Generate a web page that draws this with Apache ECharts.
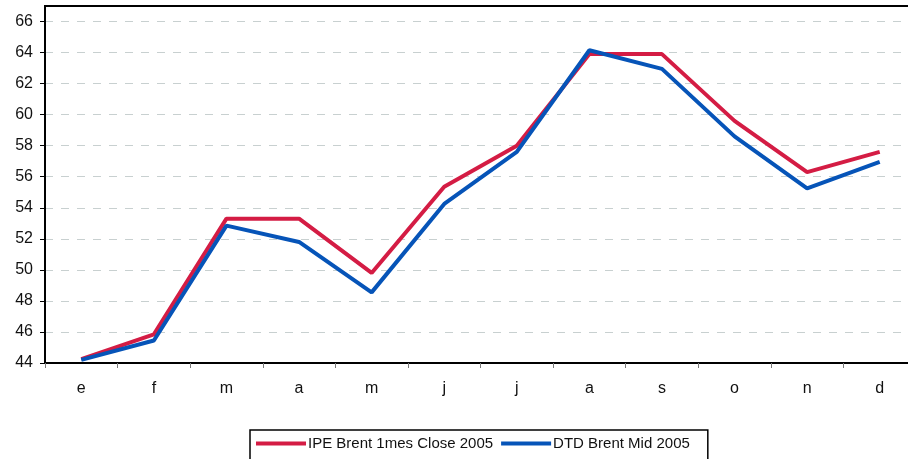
<!DOCTYPE html>
<html>
<head>
<meta charset="utf-8">
<script src="https://cdn.jsdelivr.net/npm/echarts@6/dist/echarts.min.js"></script>
<style>
  html, body { margin: 0; padding: 0; background: #fff; overflow: hidden; }
  #chart { width: 920px; height: 459px; }
</style>
</head>
<body>
<div id="chart"></div>
<script>
const meses = ["e", "f", "m", "a", "m", "j", "j", "a", "s", "o", "n", "d"];
const ipeBrent = [44.25, 45.85, 53.3, 53.3, 49.8, 55.35, 58.0, 63.9, 63.9, 59.6, 56.3, 57.6];
const dtdBrent = [44.2, 45.45, 52.85, 51.8, 48.55, 54.25, 57.6, 64.15, 62.95, 58.6, 55.25, 56.95];
const nombres = ["IPE Brent 1mes Close 2005", "DTD Brent Mid 2005"];

const initChart = () => {
    const myChart = echarts.init(document.getElementById("chart"));
    const fuente = "Liberation Sans, Arial, sans-serif";

    myChart.setOption({
        animation: false,
        textStyle: { fontFamily: fuente },
        grid: {
            left: 45, top: 6, width: 871, height: 357,
            show: true, borderColor: "#000", borderWidth: 2, backgroundColor: "transparent"
        },
        legend: {
            left: 250, top: 430,
            data: nombres,
            icon: "rect",
            itemWidth: 50, itemHeight: 4, itemGap: 8,
            borderColor: "#000", borderWidth: 1.5,
            padding: [6, 18, 12, 6],
            textStyle: { fontSize: 15, color: "#111", padding: [0, 0, 0, -3] }
        },
        xAxis: {
            type: "category",
            data: meses,
            boundaryGap: true,
            axisLine: { lineStyle: { color: "#000", width: 2 } },
            axisTick: { show: true, length: 5, lineStyle: { color: "#777", width: 1 } },
            axisLabel: { fontSize: 16, color: "#111", margin: 18 }
        },
        yAxis: {
            type: "value",
            min: 44, max: 67, interval: 2,
            axisLine: { show: true, lineStyle: { color: "#000", width: 2 } },
            axisTick: { show: true, length: 5, lineStyle: { color: "#000", width: 1 } },
            axisLabel: { fontSize: 16, color: "#111", margin: 12, showMaxLabel: false },
            splitLine: { showMaxLine: false, showMinLine: false, lineStyle: { color: "#c8d0d0", type: [8, 8], width: 1 } }
        },
        series: [
            {
                name: nombres[0], type: "line", data: ipeBrent,
                symbol: "none", lineStyle: { color: "#d41c44", width: 4 },
                itemStyle: { color: "#d41c44" }
            },
            {
                name: nombres[1], type: "line", data: dtdBrent,
                symbol: "none", lineStyle: { color: "#0654b8", width: 4 },
                itemStyle: { color: "#0654b8" }
            }
        ]
    });
    myChart.resize();
};

window.addEventListener("load", () => {
    initChart();
});
</script>
</body>
</html>
